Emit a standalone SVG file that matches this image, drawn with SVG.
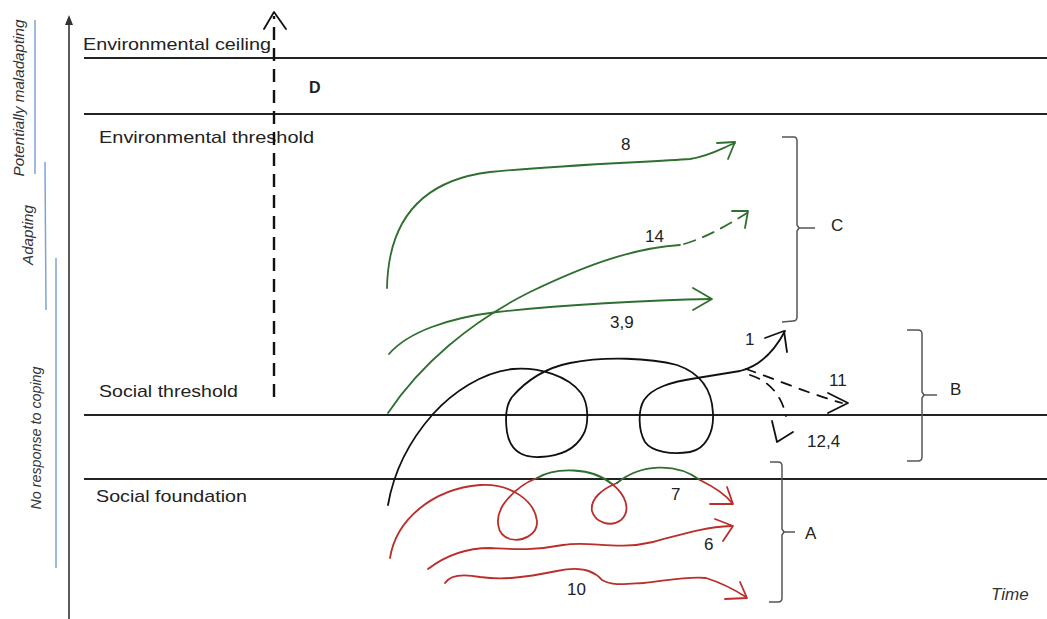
<svg xmlns="http://www.w3.org/2000/svg" width="1047" height="619" viewBox="0 0 1047 619">
<style>
.bg{fill:#ffffff}
.lbl{font-family:"Liberation Sans",Arial,sans-serif;font-size:17px;fill:#222}
.num{font-family:"Liberation Sans",Arial,sans-serif;font-size:17px;fill:#222}
.side{font-family:"Liberation Sans",Arial,sans-serif;font-size:14px;font-style:italic;fill:#333}
.time{font-family:"Liberation Sans",Arial,sans-serif;font-size:17px;font-style:italic;fill:#333}
.hline{stroke:#222;stroke-width:2;fill:none}
.axis{stroke:#333;stroke-width:1.6;fill:none}
.blue{stroke:#7fa3d6;stroke-width:1.5;fill:none}
.brace{stroke:#555;stroke-width:1.5;fill:none}
.g{stroke:#2f6f2f;stroke-width:1.8;fill:none;stroke-linecap:round;stroke-linejoin:round}
.r{stroke:#bb2e2a;stroke-width:1.8;fill:none;stroke-linecap:round;stroke-linejoin:round}
.k{stroke:#111;stroke-width:1.8;fill:none;stroke-linecap:round;stroke-linejoin:round}
.dash{stroke-dasharray:12 8}
.kdash{stroke-dasharray:10 9}
</style>
<rect class="bg" x="0" y="0" width="1047" height="619"/>

<g id="axis">
  <line class="axis" x1="69" y1="619" x2="69" y2="22"/>
  <path d="M69,15 L65,25 L73,25 Z" fill="#333"/>
  <text class="time" x="991" y="600">Time</text>
</g>

<g id="side-labels">
  <line class="blue" x1="35" y1="20" x2="35" y2="174"/>
  <line class="blue" x1="45" y1="162" x2="46" y2="310"/>
  <line class="blue" x1="56" y1="258" x2="56" y2="568"/>
  <text class="side" transform="translate(24,98) rotate(-90)" text-anchor="middle" textLength="157" lengthAdjust="spacingAndGlyphs">Potentially maladapting</text>
  <text class="side" transform="translate(33,235) rotate(-90)" text-anchor="middle" textLength="60" lengthAdjust="spacingAndGlyphs">Adapting</text>
  <text class="side" transform="translate(41,438) rotate(-90)" text-anchor="middle" textLength="143" lengthAdjust="spacingAndGlyphs">No response to coping</text>
</g>

<g id="thresholds">
  <line class="hline" x1="84" y1="58" x2="1047" y2="58"/>
  <line class="hline" x1="84" y1="114" x2="1047" y2="114"/>
  <line class="hline" x1="84" y1="415" x2="1047" y2="415"/>
  <line class="hline" x1="84" y1="479" x2="1047" y2="479"/>
  <text class="lbl" x="83" y="50" textLength="188" lengthAdjust="spacingAndGlyphs">Environmental ceiling</text>
  <text class="lbl" x="99" y="143" textLength="215" lengthAdjust="spacingAndGlyphs">Environmental threshold</text>
  <text class="lbl" x="99" y="397" textLength="139" lengthAdjust="spacingAndGlyphs">Social threshold</text>
  <text class="lbl" x="96" y="502" textLength="151" lengthAdjust="spacingAndGlyphs">Social foundation</text>
  <text class="lbl" x="309" y="93" style="font-weight:bold;font-size:16px">D</text>
</g>

<g id="connectors">
  <g id="path-D">
    <line x1="274" y1="397" x2="274" y2="16" stroke="#111" stroke-width="2.4" stroke-dasharray="13 8"/>
    <path class="k" d="M264,29 L274,12 L286,29" stroke-width="2"/>
  </g>

  <g id="path-8">
    <path class="g" d="M387,288 C388,235 408,182 490,172 C560,165 650,162 690,159 C710,156 720,149 735,143"/>
    <path class="g" d="M717,143 L735,142 L728,159"/>
    <text class="num" x="621" y="150">8</text>
  </g>
  <g id="path-14">
    <path class="g" d="M388,413 C420,365 470,322 530,292 C580,268 630,248 680,245"/>
    <path class="g dash" d="M684,244 C705,238 728,225 747,213"/>
    <path class="g" d="M732,211 L748,211 L745,228"/>
    <text class="num" x="645" y="242">14</text>
  </g>
  <g id="path-3-9">
    <path class="g" d="M389,354 C408,332 448,318 497,312 C560,305 650,300 711,299"/>
    <path class="g" d="M693,288 L712,299 L693,310"/>
    <text class="num" x="610" y="328">3,9</text>
  </g>

  <g id="path-1">
    <path class="k" d="M388,505 C394,470 410,440 433,414 C452,393 482,372 513,369 C540,367 568,376 581,393 C589,404 589,425 583,435 C576,448 563,456 540,457 C522,458 510,450 507,432 C505,418 506,405 512,397 C525,382 545,368 570,363 C605,356 650,358 677,365 C700,373 712,390 713,413 C714,432 706,449 690,452 C672,455 652,452 645,442 C638,430 638,410 644,400 C652,388 670,382 697,378 L740,371 C760,366 775,350 785,331"/>
    <path class="k" d="M765,338 L784,331 L787,352"/>
    <text class="num" x="745" y="345">1</text>
  </g>
  <g id="path-11">
    <path class="k kdash" d="M746,369 C775,379 810,394 842,403"/>
    <path class="k" d="M828,393 L848,403 L828,413"/>
    <text class="num" x="829" y="386">11</text>
  </g>
  <g id="path-12-4">
    <path class="k kdash" d="M750,375 C766,380 781,392 786,416"/>
    <path class="k" d="M772,421 L777,442 L793,432"/>
    <text class="num" x="807" y="447">12,4</text>
  </g>

  <g id="path-7">
    <path class="r" d="M390,558 C396,520 432,489 480,485 C512,483 535,502 537,521 C538,535 522,542 510,539 C496,535 495,518 503,505 C512,492 524,483 537,478"/>
    <path class="g" d="M537,478 C555,467 592,467 612,484"/>
    <path class="r" d="M612,484 C625,494 632,510 621,520 C610,528 595,522 592,511 C590,499 602,489 617,483"/>
    <path class="g" d="M617,483 C640,464 676,462 700,480"/>
    <path class="r" d="M700,480 C714,487 726,495 732,503"/>
    <path class="r" d="M727,487 L733,504 L710,504"/>
    <text class="num" x="671" y="500">7</text>
  </g>
  <g id="path-6">
    <path class="r" d="M428,569 C445,556 465,548 490,548 C512,549 532,551 563,545 C590,540 615,551 653,542 C680,535 703,527 731,526"/>
    <path class="r" d="M715,519 L733,526 L723,541"/>
    <text class="num" x="704" y="550">6</text>
  </g>
  <g id="path-10">
    <path class="r" d="M445,583 C450,575 464,574 480,577 C502,580 522,578 557,571 C575,567 592,568 602,580 C612,586 626,584 643,583 C670,580 690,576 706,578 C722,583 735,590 746,597"/>
    <path class="r" d="M740,582 L747,598 L725,599"/>
    <text class="num" x="567" y="595">10</text>
  </g>
</g>

<g id="braces">
  <g id="brace-C">
    <path class="brace" d="M782,137 L794,137 Q797,137 797,141 L797,225 L799,228 L797,231 L797,317 Q797,321 793,321 L782,322"/>
    <line class="brace" x1="799" y1="228" x2="815" y2="228"/>
    <text class="num" x="831" y="231">C</text>
  </g>
  <g id="brace-B">
    <path class="brace" d="M907,330 L918,330 Q922,330 922,334 L922,392 L924,395 L922,398 L922,457 Q922,461 918,461 L907,461"/>
    <line class="brace" x1="924" y1="395" x2="937" y2="395"/>
    <text class="num" x="950" y="395">B</text>
  </g>
  <g id="brace-A">
    <path class="brace" d="M770,462 L778,462 Q782,462 782,466 L782,529 L784,532 L782,535 L782,598 Q782,602 778,602 L769,602"/>
    <line class="brace" x1="784" y1="532" x2="795" y2="532"/>
    <text class="num" x="805" y="539">A</text>
  </g>
</g>
</svg>
